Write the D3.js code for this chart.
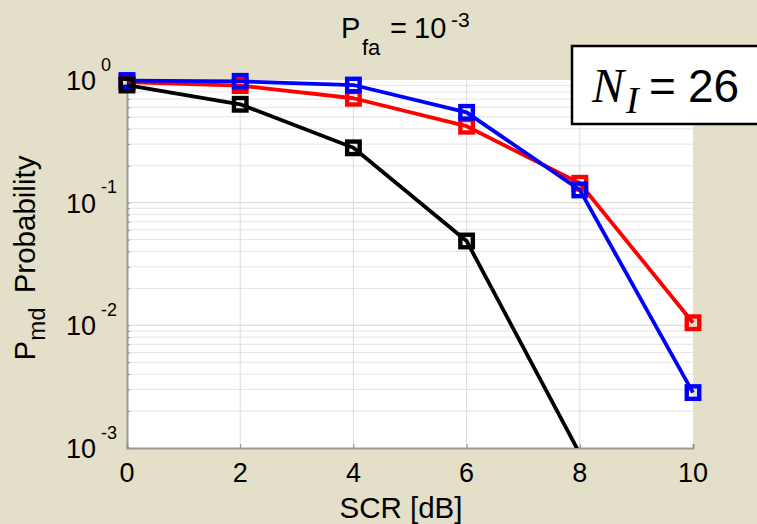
<!DOCTYPE html>
<html>
<head>
<meta charset="utf-8">
<script src="https://cdn.jsdelivr.net/npm/d3@7"></script>
<style>
  html, body { margin: 0; padding: 0; background: #e3dfc9; }
  svg { display: block; }
  text { font-family: "Liberation Sans", Arial, sans-serif; fill: #000; }
</style>
</head>
<body>
<svg id="chart" width="757" height="524"></svg>
<script>
// SCR values (dB) on the x axis
const scr = [0, 2, 4, 6, 8, 10];
// Missed-detection probability for each detector
const pmdRed   = [0.96, 0.90, 0.71, 0.42, 0.144, 0.0105];
const pmdBlue  = [0.99, 0.975, 0.91, 0.545, 0.127, 0.00283];
const pmdBlack = [0.91, 0.634, 0.28, 0.0487, 0.0009];
// Axis ticks
const xTicks = [0, 2, 4, 6, 8, 10];
const yDecades = [0, -1, -2, -3];

const series = [
  { color: "#ff0000", values: pmdRed },
  { color: "#0000ff", values: pmdBlue },
  { color: "#000000", values: pmdBlack }
];

const W = 757, H = 524;
const plot = { left: 127, right: 693, top: 80, bottom: 448 };

const svg = d3.select("#chart");

const x = d3.scaleLinear().domain([0, 10]).range([plot.left, plot.right]);
const y = d3.scaleLog().domain([1e-3, 1]).range([plot.bottom, plot.top]);

// white plotting area
svg.append("rect")
  .attr("x", plot.left).attr("y", plot.top)
  .attr("width", plot.right - plot.left).attr("height", plot.bottom - plot.top)
  .attr("fill", "#ffffff");

// log grid: minor lines 2..9 in each decade, major at decades
const minorVals = [];
for (let e = -3; e < 0; e++) {
  for (let m = 2; m <= 9; m++) minorVals.push(m * Math.pow(10, e));
}
const grid = svg.append("g");
grid.selectAll("line.minor").data(minorVals).join("line")
  .attr("x1", plot.left).attr("x2", plot.right)
  .attr("y1", d => y(d)).attr("y2", d => y(d))
  .attr("stroke", "#e4e4e4").attr("stroke-width", 1);
grid.selectAll("line.major").data(yDecades.slice(1, 3)).join("line")
  .attr("x1", plot.left).attr("x2", plot.right)
  .attr("y1", d => y(Math.pow(10, d))).attr("y2", d => y(Math.pow(10, d)))
  .attr("stroke", "#d6d6d6").attr("stroke-width", 1);
grid.selectAll("line.vx").data(xTicks.slice(1, -1)).join("line")
  .attr("x1", d => x(d)).attr("x2", d => x(d))
  .attr("y1", plot.top).attr("y2", plot.bottom)
  .attr("stroke", "#dcdcdc").attr("stroke-width", 1);

// axes (left and bottom) with inward ticks
const axisColor = "#9c9c94";
const yAxis = d3.axisRight(y).tickValues(minorVals.concat(yDecades.map(d => Math.pow(10, d))))
  .tickSize(3).tickFormat("");
const gy = svg.append("g").attr("transform", `translate(${plot.left},0)`).call(yAxis);
gy.select(".domain").attr("stroke", axisColor).attr("stroke-width", 2);
gy.selectAll(".tick line").attr("stroke", "#8c8c8c");

const xAxis = d3.axisTop(x).tickValues(xTicks).tickSize(4).tickFormat("");
const gx = svg.append("g").attr("transform", `translate(0,${plot.bottom})`).call(xAxis);
gx.select(".domain").attr("stroke", axisColor).attr("stroke-width", 2);
gx.selectAll(".tick line").attr("stroke", "#8c8c8c");

// x tick labels
svg.append("g").selectAll("text").data(xTicks).join("text")
  .attr("x", d => x(d)).attr("y", 482)
  .attr("text-anchor", "middle").attr("font-size", 27)
  .text(d => d);

// y tick labels as 10^k
const yl = svg.append("g");
yl.selectAll("text.base").data(yDecades).join("text")
  .attr("x", 96).attr("y", d => y(Math.pow(10, d)) + 10)
  .attr("text-anchor", "end").attr("font-size", 27)
  .text("10");
yl.selectAll("text.exp").data(yDecades).join("text")
  .attr("x", 101).attr("y", d => y(Math.pow(10, d)) - 9.5)
  .attr("text-anchor", "start").attr("font-size", 18)
  .text(d => d === 0 ? "0" : "-" + Math.abs(d));

// x label
svg.append("text").attr("x", 401).attr("y", 518)
  .attr("text-anchor", "middle").attr("font-size", 29.5)
  .text("SCR [dB]");

// y label (rotated)
const ylab = svg.append("text")
  .attr("transform", "translate(35,258) rotate(-90)")
  .attr("text-anchor", "middle").attr("font-size", 29.5);
ylab.append("tspan").text("P");
ylab.append("tspan").attr("font-size", 24).attr("dy", 10).text("md");
ylab.append("tspan").attr("dy", -10).attr("dx", 14).text("Probability");

// title, pieces placed individually
const tFont = 29;
const title = svg.append("g");
title.append("text").attr("x", 341).attr("y", 38).attr("font-size", tFont).text("P");
title.append("text").attr("x", 362).attr("y", 55).attr("font-size", 22).text("fa");
title.append("text").attr("x", 390).attr("y", 38).attr("font-size", tFont).text("=");
title.append("text").attr("x", 414).attr("y", 38).attr("font-size", tFont).text("10");
title.append("text").attr("x", 451).attr("y", 27).attr("font-size", 21).text("-3");

// curves
svg.append("clipPath").attr("id", "plotclip")
  .append("rect").attr("x", 0).attr("y", 0).attr("width", W).attr("height", plot.bottom);

const line = d3.line().x(d => x(d[0])).y(d => y(d[1]));
const marks = svg.append("g");
series.forEach(s => {
  const pts = s.values.map((v, i) => [scr[i], v]);
  marks.append("path")
    .attr("d", line(pts))
    .attr("clip-path", "url(#plotclip)")
    .attr("fill", "none").attr("stroke", s.color)
    .attr("stroke-width", 3.8).attr("stroke-linejoin", "round");
  const sz = 12.5;
  marks.selectAll(null).data(pts.filter(p => p[1] >= 1e-3)).join("rect")
    .attr("x", d => x(d[0]) - sz / 2).attr("y", d => y(d[1]) - sz / 2)
    .attr("width", sz).attr("height", sz)
    .attr("fill", "none").attr("stroke", s.color).attr("stroke-width", 4.4);
});

// annotation box
svg.append("rect").attr("x", 572).attr("y", 46).attr("width", 200).attr("height", 78)
  .attr("fill", "#ffffff").attr("stroke", "#000").attr("stroke-width", 2.5);
const serif = "'Liberation Serif', 'Times New Roman', serif";
svg.append("text").attr("x", 592).attr("y", 102)
  .style("font-family", serif).style("font-style", "italic")
  .attr("font-size", 48).text("N");
svg.append("text").attr("x", 626).attr("y", 113)
  .style("font-family", serif).style("font-style", "italic")
  .attr("font-size", 38).text("I");
svg.append("text").attr("x", 649).attr("y", 102).attr("font-size", 46).text("=");
svg.append("text").attr("x", 688).attr("y", 102).attr("font-size", 46).text("26");
</script>
</body>
</html>
